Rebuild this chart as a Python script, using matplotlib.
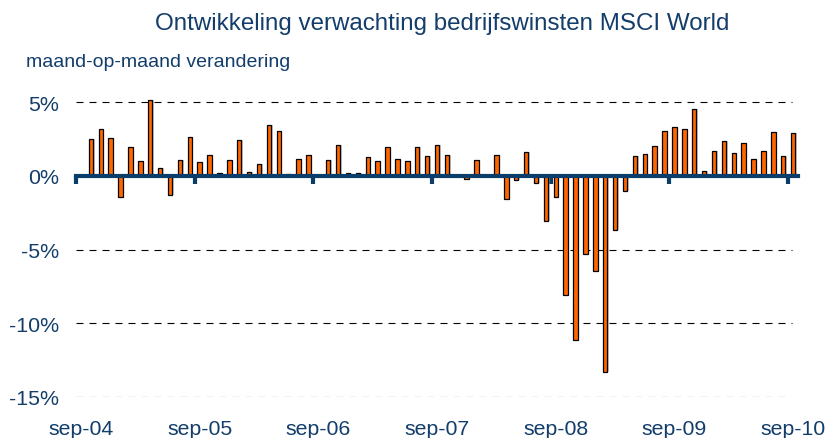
import numpy as np
import matplotlib
matplotlib.use('Agg')
import matplotlib.pyplot as plt
import matplotlib.transforms as mtransforms

plt.rcParams['font.family'] = ['Liberation Sans', 'DejaVu Sans']

# monthly change in expected earnings, sep-04 .. sep-10 (73 months)
values = [
    0.0, 2.50, 3.18, 2.57, -1.43, 1.93, 1.04, 5.15, 0.57, -1.32, 1.11, 2.61,
    0.93, 1.41, 0.23, 1.09, 2.43, 0.30, 0.84, 3.43, 3.04, 0.16, 1.18, 1.45,
    0.0, 1.11, 2.09, 0.18, 0.18, 1.27, 1.04, 1.93, 1.14, 1.04, 1.98, 1.32,
    2.13, 1.43, 0.0, -0.22, 1.09, 0.0, 1.45, -1.54, -0.25, 1.61, -0.48, -3.05,
    -1.40, -8.06, -11.13, -5.30, -6.47, -13.33, -3.67, -1.01, 1.36, 1.48, 2.04, 3.04,
    3.31, 3.20, 4.52, 0.36, 1.66, 2.36, 1.57, 2.25, 1.16, 1.72, 2.97, 1.36,
    2.93,
]
years = ['04', '05', '06', '07', '08', '09', '10']
tick_labels = ['sep-' + y for y in years]
yticks = [5, 0, -5, -10, -15]

navy = '#133D6B'
x = np.arange(len(values))

fig = plt.figure(figsize=(8.29, 4.39), dpi=100)
ax = fig.add_axes([0.0917, 0.0934, 0.871, 0.705])

# soft shadow + bars
ax.bar(x + 0.08, values, width=0.58, color='#9a9a9a', alpha=0.55, linewidth=0, zorder=2)
ax.bar(x, values, width=0.45, color='#FF6600', edgecolor='black', linewidth=0.9, zorder=3)

for v in yticks:
    if v != 0:
        ax.axhline(v, xmax=0.992, color='black', linewidth=0.8,
                   linestyle=(0, (6.3, 5.4)), zorder=1)

ax.set_xlim(-0.5, len(values) - 0.5)
ax.set_ylim(-15, 6)

for s in ['top', 'right', 'left']:
    ax.spines[s].set_visible(False)
ax.spines['bottom'].set_position(('data', 0))
ax.spines['bottom'].set_color('#0B3D6B')
ax.spines['bottom'].set_linewidth(3)
ax.spines['bottom'].set_zorder(4)

tick_pos = np.arange(0, len(values), 12)
ax.set_xticks(tick_pos - 0.5)
ax.tick_params(axis='x', direction='out', length=6, width=3, color='#0B3D6B',
               labelbottom=False)

ax.set_yticks(yticks)
ax.set_yticklabels([f'{v}%' for v in yticks], color=navy, fontsize=15.4)
ax.tick_params(axis='y', length=0, pad=12)

trans = mtransforms.blended_transform_factory(ax.transData, ax.transAxes)
for p, lab in zip(tick_pos, tick_labels):
    ax.text(p, -0.103, lab, transform=trans, ha='center', va='center',
            color=navy, fontsize=15.3)

fig.text(0.534, 0.945, 'Ontwikkeling verwachting bedrijfswinsten MSCI World',
         ha='center', va='center', color=navy, fontsize=17.4)
fig.text(0.031, 0.857, 'maand-op-maand verandering', ha='left', va='center',
         color=navy, fontsize=14)

fig.savefig('out.png', dpi=100)
